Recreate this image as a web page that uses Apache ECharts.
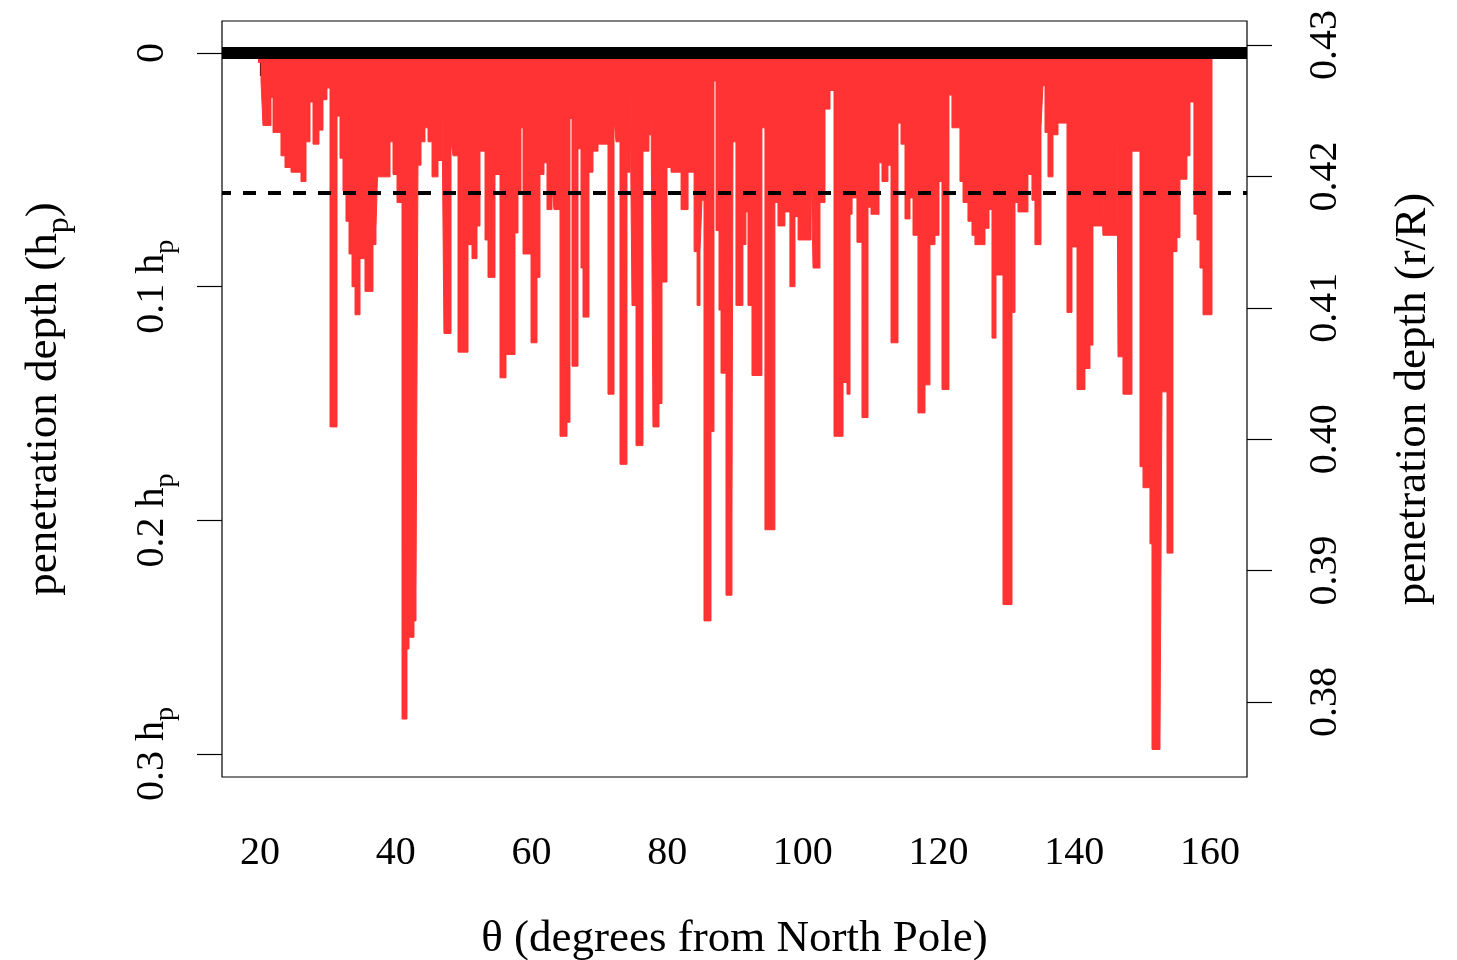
<!DOCTYPE html>
<html>
<head>
<meta charset="utf-8">
<script src="https://cdn.jsdelivr.net/npm/echarts@6/dist/echarts.min.js"></script>
<style>
html,body{margin:0;padding:0;background:#fff;}
#chart{width:1457px;height:960px;}
</style>
</head>
<body>
<div id="chart"></div>
<script>
// ---- data: [theta start (deg), penetration depth (h_p)] step profile ----
const profile20to60 = [[19.70,0.004],[20.15,0.012],[20.44,0.031],[21.62,0.019],[21.92,0.034],[23.09,0.044],[23.68,0.049],[24.57,0.051],[26.04,0.055],[26.78,0.038],[27.37,0.021],[27.81,0.039],[28.69,0.033],[29.28,0.020],[29.87,0.015],[30.32,0.160],[31.35,0.027],[31.79,0.045],[32.23,0.059],[32.67,0.072],[33.12,0.086],[33.56,0.100],[34.00,0.112],[34.74,0.088],[35.47,0.102],[36.65,0.082],[37.09,0.075],[37.31,0.053],[39.16,0.038],[39.60,0.052],[40.19,0.064],[40.93,0.285],[41.66,0.255],[41.96,0.250],[42.69,0.243],[42.99,0.230],[43.28,0.048],[43.73,0.038],[44.31,0.032],[44.76,0.038],[45.35,0.053],[46.23,0.046],[46.82,0.024],[47.11,0.120],[48.15,0.038],[48.44,0.044],[49.18,0.128],[50.65,0.082],[51.24,0.088],[51.98,0.074],[52.42,0.042],[53.16,0.080],[53.60,0.096],[54.63,0.052],[55.37,0.139],[56.25,0.129],[57.58,0.077],[58.02,0.059],[58.46,0.032],[58.76,0.086],[59.94,0.124]];
const profile60to100 = [[60.82,0.096],[61.26,0.052],[61.85,0.047],[62.29,0.067],[63.03,0.057],[63.32,0.067],[64.21,0.164],[65.24,0.158],[65.68,0.028],[65.98,0.134],[66.86,0.041],[67.30,0.092],[67.60,0.113],[68.48,0.051],[69.07,0.042],[69.81,0.039],[71.28,0.146],[72.17,0.028],[72.46,0.038],[73.05,0.176],[74.08,0.051],[74.53,0.014],[74.82,0.108],[75.41,0.168],[76.44,0.042],[77.32,0.035],[77.62,0.021],[77.91,0.160],[78.80,0.150],[79.24,0.098],[79.98,0.049],[80.57,0.051],[82.05,0.067],[83.08,0.051],[83.97,0.085],[84.41,0.108],[84.84,0.085],[85.13,0.063],[85.43,0.243],[86.46,0.162],[86.90,0.012],[87.20,0.076],[87.64,0.110],[87.94,0.137],[88.67,0.232],[89.55,0.202],[89.70,0.038],[90.14,0.108],[91.17,0.082],[91.61,0.068],[91.91,0.108],[92.50,0.138],[93.97,0.032],[94.41,0.204],[95.88,0.064],[96.33,0.074],[97.36,0.068],[98.09,0.100],[98.84,0.070],[99.29,0.080]];
const profile100to140 = [[101.21,0.048],[101.50,0.092],[102.52,0.064],[103.26,0.024],[104.00,0.016],[104.59,0.164],[105.92,0.141],[106.50,0.146],[106.95,0.069],[107.25,0.062],[107.97,0.081],[108.71,0.156],[109.60,0.066],[110.04,0.069],[111.22,0.047],[111.66,0.055],[112.54,0.048],[112.99,0.124],[114.02,0.030],[114.46,0.039],[115.05,0.071],[115.79,0.062],[116.23,0.078],[116.96,0.154],[118.00,0.142],[118.73,0.082],[119.47,0.078],[120.06,0.055],[120.50,0.144],[121.53,0.018],[121.97,0.032],[123.15,0.055],[123.60,0.064],[124.33,0.072],[124.92,0.078],[125.36,0.082],[126.84,0.075],[127.43,0.067],[127.87,0.122],[128.46,0.095],[129.49,0.236],[130.82,0.111],[131.26,0.064],[131.70,0.068],[133.17,0.052],[133.76,0.063],[134.20,0.082],[135.09,0.032],[135.38,0.014],[135.68,0.034],[136.12,0.053],[136.86,0.035],[137.60,0.030],[138.92,0.111],[139.66,0.083]];
const profile140to160 = [[140.40,0.144],[141.57,0.135],[142.31,0.125],[142.75,0.074],[144.08,0.062],[144.22,0.078],[146.29,0.030],[146.44,0.130],[147.17,0.146],[148.50,0.042],[149.68,0.177],[150.12,0.186],[151.15,0.210],[151.45,0.298],[152.63,0.293],[152.92,0.145],[153.66,0.214],[154.54,0.085],[155.13,0.079],[155.57,0.054],[156.60,0.044],[157.05,0.021],[157.63,0.069],[158.08,0.080],[158.52,0.092],[158.97,0.112],[160.29,0]];
const surfaceDepth = 0;
const referenceDepth = 0.0582;
const xTicks = [20, 40, 60, 80, 100, 120, 140, 160];
const leftTicks = [0, 0.1, 0.2, 0.3];
const rightTicks = [0.38, 0.39, 0.40, 0.41, 0.42, 0.43];

const profile = profile20to60.concat(profile60to100, profile100to140, profile140to160);

const FONT = 'Liberation Serif';
const chart = echarts.init(document.getElementById('chart'), null, {renderer: 'canvas'});
const subRich = {
  a: {fontFamily: FONT, fontSize: 40, lineHeight: 40, color: '#000', verticalAlign: 'top'},
  s: {fontFamily: FONT, fontSize: 28, lineHeight: 28, color: '#000', verticalAlign: 'top', padding: [20, 0, 0, 0]}
};
const nameRich = {
  a: {fontFamily: FONT, fontSize: 45, lineHeight: 45, color: '#000', verticalAlign: 'top'},
  s: {fontFamily: FONT, fontSize: 32, lineHeight: 32, color: '#000', verticalAlign: 'top', padding: [22, 0, 0, 0]}
};

chart.setOption({
  animation: false,
  backgroundColor: '#fff',
  grid: {left: 222, top: 21, right: 210, bottom: 183, outerBoundsMode: 'none', containLabel: false,
         show: true, borderColor: '#000', borderWidth: 1.2, backgroundColor: 'transparent'},
  xAxis: {
    type: 'value', min: 14.40, max: 165.45,
    name: 'θ (degrees from North Pole)', nameLocation: 'middle', nameGap: 140,
    nameTextStyle: {fontFamily: FONT, fontSize: 45, color: '#000'},
    axisLine: {show: false},
    axisTick: {show: true, length: 23, inside: false, customValues: xTicks, lineStyle: {color: '#000', width: 1.2}},
    axisLabel: {customValues: xTicks, margin: 56, fontFamily: FONT, fontSize: 40, color: '#000'},
    splitLine: {show: false}
  },
  yAxis: [{
    type: 'value', inverse: true, min: -0.01369, max: 0.3098, position: 'left',
    name: '{a|penetration depth (h}{s|p}{a|)}', nameLocation: 'middle', nameGap: 155,
    nameTextStyle: {rich: nameRich},
    axisLine: {show: false},
    axisTick: {show: true, length: 25, customValues: leftTicks, lineStyle: {color: '#000', width: 1.2}},
    axisLabel: {
      customValues: leftTicks, rotate: 90, margin: 50,
      formatter: function (v) { return v === 0 ? '{a|0}' : '{a|' + v.toFixed(1) + ' h}{s|p}'; },
      rich: subRich
    },
    splitLine: {show: false}
  }, {
    type: 'value', min: 0.37429, max: 0.43183, position: 'right',
    name: 'penetration depth (r/R)', nameLocation: 'middle', nameGap: 144,
    nameTextStyle: {fontFamily: FONT, fontSize: 45, color: '#000'},
    axisLine: {show: false},
    axisTick: {show: true, length: 25, customValues: rightTicks, lineStyle: {color: '#000', width: 1.2}},
    axisLabel: {
      customValues: rightTicks, rotate: 90, margin: 58,
      fontFamily: FONT, fontSize: 40, color: '#000',
      formatter: function (v) { return v.toFixed(2); }
    },
    splitLine: {show: false}
  }],
  series: [{
    type: 'line',
    xAxisIndex: 0, yAxisIndex: 0,
    data: profile,
    step: 'end',
    showSymbol: false,
    symbol: 'none',
    lineStyle: {color: '#ff3333', width: 1},
    areaStyle: {color: '#ff3333', opacity: 1},
    silent: true,
    markLine: {
      silent: true, symbol: 'none', label: {show: false},
      data: [
        {yAxis: referenceDepth, lineStyle: {color: '#000', width: 4, type: [13, 12], dashOffset: 4}},
        {yAxis: surfaceDepth, lineStyle: {color: '#000', width: 12, type: 'solid'}}
      ]
    }
  }]
});
</script>
</body>
</html>
